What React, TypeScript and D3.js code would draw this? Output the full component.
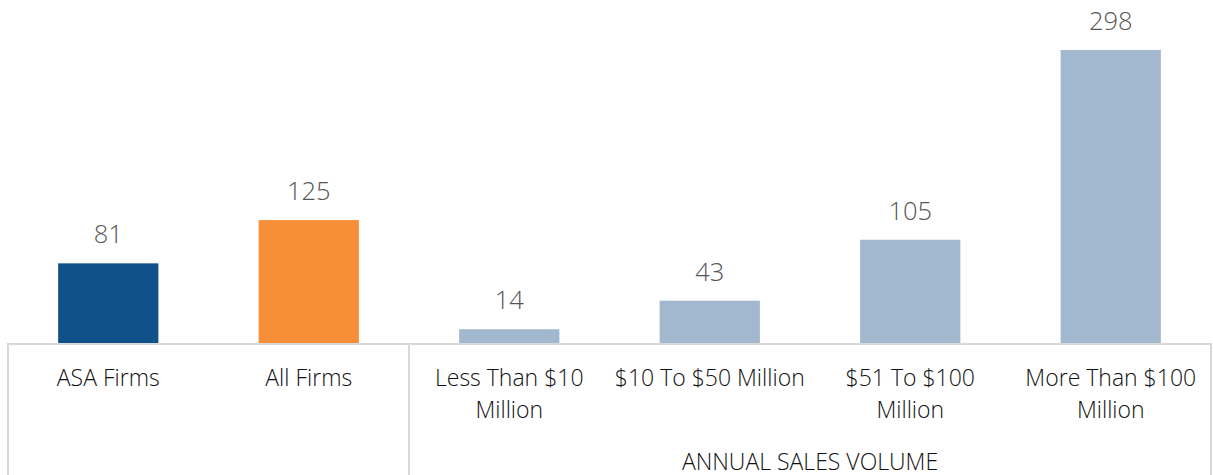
import React, { useEffect, useRef } from "react";
import * as d3 from "d3";

const categories = [
  "ASA Firms",
  "All Firms",
  "Less Than $10 Million",
  "$10 To $50 Million",
  "$51 To $100 Million",
  "More Than $100 Million",
];
const values = [81, 125, 14, 43, 105, 298];
const barColors = ["#10518A", "#F78F38", "#A2B8CF", "#A2B8CF", "#A2B8CF", "#A2B8CF"];
const groupLabel = "ANNUAL SALES VOLUME";
const groupStartIndex = 2;

const W = 1213;
const H = 475;

export default function App() {
  const ref = useRef<SVGSVGElement>(null);

  useEffect(() => {
    const svg = d3.select(ref.current);
    svg.selectAll("*").remove();
    const left = 8, right = 1211, base = 343;
    const x = d3.scaleBand<string>().domain(categories).range([left, right]).paddingInner(0.5).paddingOuter(0.25);
    const y = d3.scaleLinear().domain([0, 300]).range([base, 48]);
    const font = "'Open Sans', 'Segoe UI', sans-serif";

    svg.selectAll("rect.bar")
      .data(values)
      .join("rect")
      .attr("class", "bar")
      .attr("x", (_, i) => x(categories[i])!)
      .attr("width", x.bandwidth())
      .attr("y", (d) => y(d))
      .attr("height", (d) => base - y(d))
      .attr("fill", (_, i) => barColors[i]);

    svg.selectAll("text.val")
      .data(values)
      .join("text")
      .attr("class", "val")
      .attr("x", (_, i) => x(categories[i])! + x.bandwidth() / 2)
      .attr("y", (d) => y(d) - 20)
      .attr("text-anchor", "middle")
      .attr("font-family", font)
      .attr("font-weight", 320)
      .attr("font-size", 25.5)
      .attr("fill", "#555555")
      .text((d) => d);

    const g = svg.append("g").attr("stroke", "#D9D9D9").attr("stroke-width", 2);
    g.append("line").attr("x1", left).attr("x2", right).attr("y1", base + 1).attr("y2", base + 1);
    const step = x.step();
    const divs = [left, left + step * groupStartIndex, right];
    divs.forEach((dx) => {
      g.append("line").attr("x1", dx).attr("x2", dx).attr("y1", base).attr("y2", H);
    });

    categories.forEach((c, i) => {
      const cx = x(c)! + x.bandwidth() / 2;
      const t = svg.append("text")
        .attr("x", cx)
        .attr("y", 386)
        .attr("text-anchor", "middle")
        .attr("font-family", font)
        .attr("font-weight", 340)
        .attr("font-size", 23)
        .attr("fill", "#111111");
      const maxW = step - 4;
      const words = c.split(" ");
      let line: string[] = [];
      let tspan = t.append("tspan").attr("x", cx).attr("dy", 0);
      words.forEach((w) => {
        line.push(w);
        tspan.text(line.join(" "));
        if ((tspan.node() as SVGTSpanElement).getComputedTextLength() > maxW && line.length > 1) {
          line.pop();
          tspan.text(line.join(" "));
          line = [w];
          tspan = t.append("tspan").attr("x", cx).attr("dy", 32).text(w);
        }
      });
    });

    svg.append("text")
      .attr("x", (left + step * groupStartIndex + right) / 2)
      .attr("y", 470)
      .attr("text-anchor", "middle")
      .attr("font-family", font)
      .attr("font-weight", 340)
      .attr("font-size", 23)
      .attr("fill", "#111111")
      .text(groupLabel);
  }, []);

  return (
    <svg
      ref={ref}
      width={W}
      height={H}
      style={{ position: "absolute", left: 0, top: 0, background: "#fff" }}
    />
  );
}
